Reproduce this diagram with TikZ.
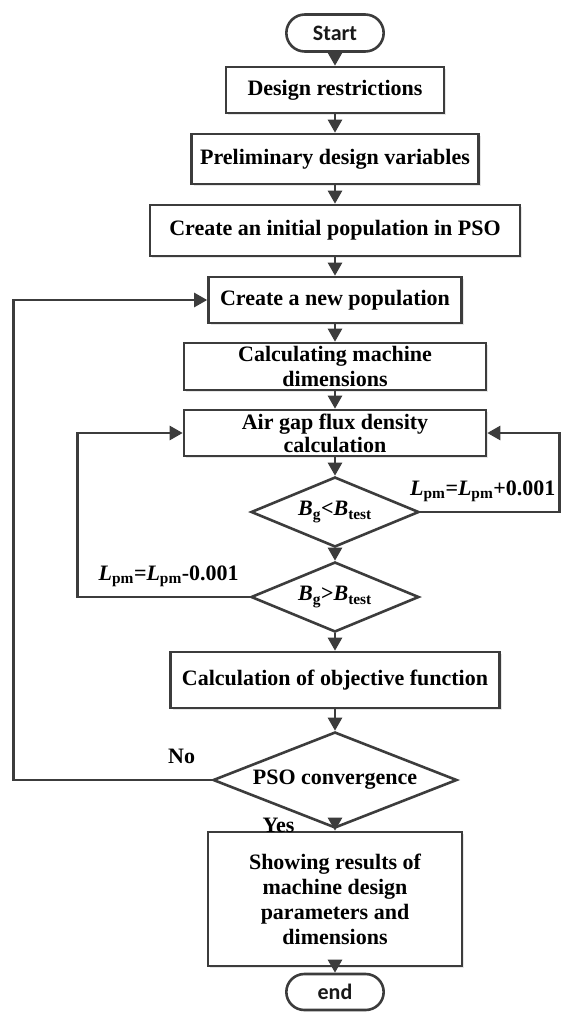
\documentclass[tikz,border=0pt]{standalone}
\usepackage{fontspec}
\setmainfont{Liberation Serif}
\newfontfamily\termfont{Carlito}
\usepackage{tikz}
\usetikzlibrary{shapes.misc, positioning, shapes.geometric, arrows.meta}
\usetikzlibrary{shadows}
\definecolor{linegray}{HTML}{3C3C3C}
\tikzstyle{term} = [rounded rectangle, minimum width=104pt, minimum height=37pt, text centered, draw=linegray, line width=2.6pt, text=black!90, font=\termfont\bfseries\fontsize{22}{26}\selectfont]
\tikzstyle{box} = [rectangle, minimum height=46pt, inner sep=1pt, align=center, draw=linegray, line width=2.6pt, fill=white, drop shadow={shadow xshift=2pt, shadow yshift=-2pt, opacity=0.2}, font=\bfseries\fontsize{22}{24}\selectfont]
\tikzstyle{dec} = [diamond, inner sep=0pt, shape aspect=2.4, minimum width=168pt, minimum height=70pt, draw=linegray, line width=2.6pt, fill=white, font=\bfseries\fontsize{22}{24}\selectfont]
\tikzstyle{lbl} = [font=\bfseries\fontsize{22}{24}\selectfont]
\tikzstyle{arrow} = [line width=2.6pt, draw=linegray, -{Triangle[length=13pt,width=14pt]}]
\newcommand{\Lpm}{\textit{L}\textsubscript{pm}}

\begin{document}
\begin{tikzpicture}[node distance=70pt]
\useasboundingbox (0,0) rectangle (560pt,-1012pt);
\node (start) [term] at (335pt,-33pt) {Start};
\node (desr) [box, minimum width=218pt, below of=start, yshift=13pt, xshift=0pt] {Design restrictions};
\node (prelim) [box, minimum width=287pt, minimum height=50pt, below of=desr, yshift=1pt, xshift=0pt] {Preliminary design variables};
\node (initpop) [box, minimum width=370pt, minimum height=51pt, below of=prelim, yshift=-1.5pt, xshift=0pt] {Create an initial population in PSO};
\node (newpop) [box, minimum width=253pt, below of=initpop, yshift=0.5pt, xshift=0pt] {Create a new population};
\node (calcdim) [box, minimum width=302pt, minimum height=47pt, below of=newpop, yshift=3.5pt, xshift=0pt, font=\bfseries\fontsize{22}{25}\selectfont] {Calculating machine\\dimensions};
\node (airgap) [box, minimum width=302pt, below of=calcdim, yshift=3.5pt, xshift=0pt, font=\bfseries\fontsize{22}{23}\selectfont] {Air gap flux density\\calculation};

\node (less) [dec, below of=airgap, yshift=-9pt, xshift=0pt] {\textit{B}\textsubscript{g}<\textit{B}\textsubscript{test}};
\node (more) [dec, below of=less, yshift=-15pt, xshift=0pt] {\textit{B}\textsubscript{g}>\textit{B}\textsubscript{test}};

\node (objfun) [box, minimum width=329pt, minimum height=56pt, below of=more, yshift=-13pt, xshift=0pt] {Calculation of objective function};
\node (conv) [dec, minimum width=244pt, minimum height=96pt, below of=objfun, yshift=-30pt, xshift=0pt] {PSO convergence};
\node (results) [box, minimum width=254pt, minimum height=134pt, below of=conv, yshift=-49pt, xshift=0pt, font=\bfseries\fontsize{22}{25}\selectfont] {Showing results of\\machine design\\parameters and\\dimensions};
\node (stop) [term, minimum height=36pt, below of=results, yshift=-23pt, xshift=0pt] {end};

\draw [arrow] (start) -- (desr);
\draw [arrow] (desr) -- (prelim);
\draw [arrow] (prelim) -- (initpop);
\draw [arrow] (initpop) -- (newpop);
\draw [arrow] (newpop) -- (calcdim);
\draw [arrow] (calcdim) -- (airgap);
\draw [arrow] (airgap) -- (less);
\draw [arrow] (less) -- (more);
\draw [arrow] (more) -- (objfun);
\draw [arrow] (objfun) -- (conv);
\draw [arrow] (conv) -- node[lbl, pos=0, anchor=north east, xshift=-36pt, yshift=16pt] {Yes} (results);
\draw [arrow] (results) -- (stop);

\draw [arrow] (less.east) -- node[lbl, anchor=base, xshift=-7pt, yshift=17pt] {\Lpm=\Lpm+0.001} ++(139pt,0) |- (airgap.east);
\draw [arrow] (more.west) -- node[lbl, anchor=base, xshift=5pt, yshift=17pt] {\Lpm=\Lpm-0.001} ++(-172pt,0) |- (airgap.west);
\draw [arrow] (conv.west) -- node[lbl, pos=0, anchor=south east, xshift=-12pt, yshift=12pt] {No} ++(-198pt,0) |- (newpop.west);
\end{tikzpicture}
\end{document}
